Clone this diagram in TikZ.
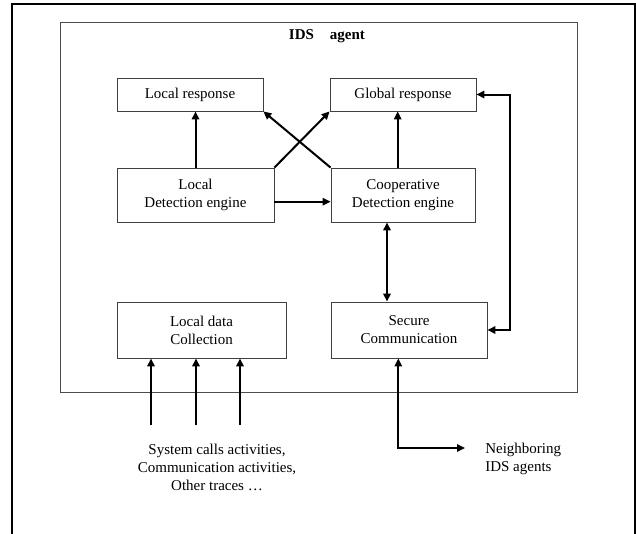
\documentclass[tikz,border=0pt]{standalone}
\usepackage{fontspec}
\setmainfont{Liberation Serif}
\usetikzlibrary{arrows.meta}

\begin{document}
\begin{tikzpicture}[x=0.75pt,y=-0.75pt,>={Triangle[length=6pt,width=5.5pt]},
    every node/.style={font=\fontsize{11.25}{13.5}\selectfont},
    box/.style={draw=black!75, line width=0.6pt, inner sep=0pt, align=center},
    link/.style={line width=1.5pt}]
                \useasboundingbox (0,0) rectangle (636,533);
                \draw[line width=1.3pt] (12,540) -- (12,4) -- (635,4) -- (635,540);
                \draw[black!70, line width=0.6pt] (60,22) rectangle (577,392);
                \node (title) at (327,36) {\bfseries IDS\hspace{12pt}agent};

                \node[box, minimum width=109.5pt, minimum height=24.75pt] (lr) at (190,94.5) {Local response};
                \node[box, minimum width=109.5pt, minimum height=24.75pt] (gr) at (403,94.5) {Global response};
                \node[box, minimum width=117.75pt, minimum height=40.5pt] (lde) at (195.5,195) {Local\\Detection engine};
                \node[box, minimum width=108pt, minimum height=40.5pt] (cde) at (403,195) {Cooperative\\Detection engine};
                \node[box, minimum width=126.75pt, minimum height=42pt] (ldc) at (201.5,330) {Local data\\Collection};
                \node[box, minimum width=117pt, minimum height=42pt] (sc) at (409,330) {Secure\\Communication};

                \node[align=center] (traces) at (217,467) {System calls activities,\\Communication activities,\\Other traces …};
                \node[align=left, anchor=west, inner sep=0pt] (nbr) at (485,458.5) {Neighboring\\IDS agents};

                \coordinate (in1) at (151,425);
                \coordinate (in2) at (196,425);
                \coordinate (in3) at (240,425);
                \coordinate (fb) at (510,200);
                \coordinate (out) at (465,448);

                \draw[->, link] (lde.north) -- (lde.north |- lr.south);
                \draw[->, link] ([xshift=-4pt]cde.north) -- ([xshift=-4pt]cde.north |- gr.south);
                \draw[->, link] (lde.north east) -- (gr.south west);
                \draw[->, link] (cde.north west) -- (lr.south east);
                \draw[->, link] ([yshift=-5pt]lde.east) -- ([yshift=-5pt]lde.east -| cde.west);
                \draw[<->, link] ([xshift=-12pt]cde.south) -- ([xshift=-12pt]cde.south |- sc.north);
                \draw[<->, link] (gr.east) -| (fb) |- (sc.east);

                \draw[->, link] (in1) -- (in1 |- ldc.south);
                \draw[->, link] (in2) -- (in2 |- ldc.south);
                \draw[->, link] (in3) -- (in3 |- ldc.south);
                \draw[<->, link] ([xshift=-8pt]sc.south) |- (out);
            \end{tikzpicture}
\end{document}
